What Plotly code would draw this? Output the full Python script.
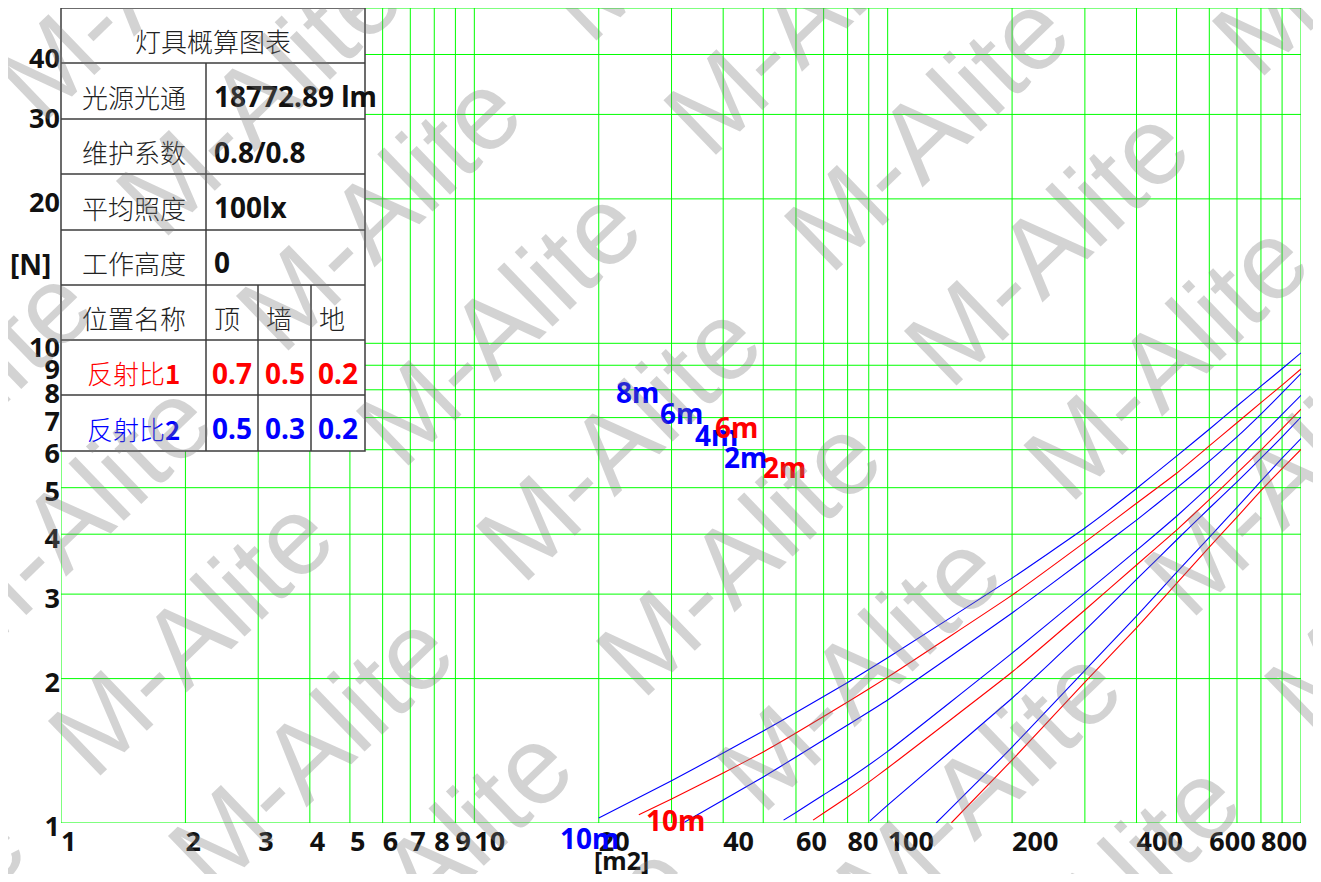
import math
import plotly.graph_objects as go

# ---------------- data ----------------
x_tick_vals = [1, 2, 3, 4, 5, 6, 7, 8, 9, 10, 20, 30, 40, 50, 60, 70, 80, 90,
               100, 200, 300, 400, 500, 600, 700, 800, 900, 1000]
x_tick_text = ["1", "2", "3", "4", "5", "6", "7", "8", "9", "10", "20", "", "40", "",
               "60", "", "80", "", "100", "200", "", "400", "", "600", "", "800", "", ""]
y_tick_vals = [1, 2, 3, 4, 5, 6, 7, 8, 9, 10, 20, 30, 40, 50]
y_tick_text = ["1", "2", "3", "4", "5", "6", "7", "8", "9", "10", "20", "30", "40", ""]

# reflectance 2 (blue)
blue_10m_x = [20, 30, 40, 50, 60, 80, 100, 200, 300, 400, 500, 600, 700, 800, 900, 1000]
blue_10m_y = [1.024, 1.225, 1.40, 1.555, 1.70, 1.962, 2.21, 3.24, 4.12, 4.98, 5.82, 6.62, 7.40, 8.14, 8.85, 9.55]
blue_8m_x = [32, 40, 50, 60, 80, 100, 200, 300, 400, 500, 600, 700, 800, 900, 1000]
blue_8m_y = [1.0, 1.117, 1.247, 1.373, 1.60, 1.805, 2.74, 3.55, 4.28, 4.99, 5.68, 6.38, 7.12, 7.88, 8.65]
blue_6m_x = [56, 60, 70, 80, 100, 200, 300, 400, 500, 600, 700, 800, 900, 1000]
blue_6m_y = [1.014, 1.052, 1.145, 1.232, 1.41, 2.26, 3.01, 3.70, 4.36, 5.03, 5.72, 6.42, 7.11, 7.79]
blue_4m_x = [90.6, 100, 200, 300, 400, 500, 600, 700, 800, 900, 1000]
blue_4m_y = [1.01, 1.09, 1.82, 2.52, 3.22, 3.89, 4.53, 5.14, 5.76, 6.38, 7.02]
blue_2m_x = [131, 200, 300, 400, 500, 600, 700, 800, 900, 1000]
blue_2m_y = [1.0, 1.44, 2.08, 2.70, 3.33, 3.94, 4.55, 5.16, 5.76, 6.33]

# reflectance 1 (red)
red_10m_x = [25, 30, 40, 50, 60, 80, 100, 200, 300, 400, 500, 600, 700, 800, 900, 1000]
red_10m_y = [1.04, 1.122, 1.271, 1.406, 1.54, 1.787, 2.014, 2.985, 3.85, 4.64, 5.36, 6.11, 6.83, 7.52, 8.18, 8.84]
red_6m_x = [66, 70, 80, 90, 100, 200, 300, 400, 500, 600, 700, 800, 900, 1000]
red_6m_y = [1.014, 1.049, 1.133, 1.217, 1.302, 2.064, 2.78, 3.45, 4.08, 4.72, 5.36, 5.99, 6.64, 7.29]
red_2m_x = [142.5, 200, 300, 400, 500, 600, 700, 800, 900, 1000]
red_2m_y = [1.0, 1.353, 1.967, 2.55, 3.16, 3.76, 4.34, 4.93, 5.48, 6.01]

# curve labels (text, area, count)
blue_labels = [("10m", 19.0, 0.93), ("8m", 24.8, 7.9), ("6m", 31.7, 7.15),
               ("4m", 38.5, 6.43), ("2m", 45.3, 5.79)]
red_labels = [("10m", 30.7, 1.014), ("6m", 43.0, 6.68), ("2m", 56.2, 5.52)]

x_title = "[m2]"
y_title = "[N]"
watermark_text = "M-Alite"

table_title = "灯具概算图表"
table_param_labels = ["光源光通", "维护系数", "平均照度", "工作高度"]
table_param_values = ["18772.89 lm", "0.8/0.8", "100lx", "0"]
table_header = ["位置名称", "顶", "墙", "地"]
table_refl1 = ["反射比1", "0.7", "0.5", "0.2"]
table_refl2 = ["反射比2", "0.5", "0.3", "0.2"]

# ---------------- styling / layout ----------------
# page is shown with the browser's 8px body margin, so the figure is sized to fit inside it
PAGE_W, PAGE_H, BODY = 1321, 882, 8
W, H = PAGE_W - 2 * BODY, PAGE_H - 2 * BODY
# plot area in page pixels
P_L, P_R, P_T, P_B = 61, 1301, 8, 823
L, T = P_L - BODY, P_T - BODY
R, B = W - (P_R - BODY), H - (P_B - BODY)
PW, PH = P_R - P_L, P_B - P_T
BLUE, RED, GRID = "#0000ff", "#ff0000", "#00ff00"
NUM_FONT = "Noto Sans"
CJK_FONT = "Noto Sans CJK SC"
TICK_SIZE = 27
LABEL_SIZE = 28
YMAX_LOG = math.log10(y_tick_vals[-1])


def px(x):
    return (x - P_L) / PW


def py(y):
    return (P_B - y) / PH


fig = go.Figure()

# grid (drawn as anti-aliased lines through the axes)
gx, gy = [], []
for v in x_tick_vals:
    gx += [v, v, None]
    gy += [y_tick_vals[0], y_tick_vals[-1], None]
for v in y_tick_vals:
    gx += [x_tick_vals[0], x_tick_vals[-1], None]
    gy += [v, v, None]
fig.add_trace(go.Scatter(x=gx, y=gy, mode="lines", line=dict(color=GRID, width=1),
                         hoverinfo="skip", showlegend=False, cliponaxis=False))

for xs, ys, col in [(blue_10m_x, blue_10m_y, BLUE), (red_10m_x, red_10m_y, RED),
                    (blue_8m_x, blue_8m_y, BLUE), (blue_6m_x, blue_6m_y, BLUE),
                    (red_6m_x, red_6m_y, RED), (blue_4m_x, blue_4m_y, BLUE),
                    (blue_2m_x, blue_2m_y, BLUE), (red_2m_x, red_2m_y, RED)]:
    fig.add_trace(go.Scatter(x=xs, y=ys, mode="lines",
                             line=dict(color=col, width=1.1, shape="spline", smoothing=0.4),
                             hoverinfo="skip", showlegend=False, cliponaxis=True))

annotations = []

# ---- repeated diagonal watermark ----
WM_ANGLE = -44
wm_origin = (858, 670)          # page px of one watermark centre
wm_step_along = (308, -310)     # lattice step along the text direction
wm_step_across = (120, 115)     # lattice step between rows
wm_annots = []
for i in range(-4, 5):
    for j in range(-10, 11):
        cx = wm_origin[0] + i * wm_step_along[0] + j * wm_step_across[0]
        cy = wm_origin[1] + i * wm_step_along[1] + j * wm_step_across[1]
        if -220 < cx < PAGE_W + 220 and -220 < cy < PAGE_H + 220:
            wm_annots.append(dict(x=px(cx), y=py(cy), xref="paper", yref="paper",
                                  text=watermark_text, showarrow=False, textangle=WM_ANGLE,
                                  xanchor="center", yanchor="middle",
                                  font=dict(family="Liberation Sans", size=110,
                                            color="rgba(120,120,120,0.33)")))

for labels, col in [(blue_labels, BLUE), (red_labels, RED)]:
    for txt, xv, yv in labels:
        annotations.append(dict(x=math.log10(xv), y=math.log10(yv) / YMAX_LOG, xref="x", yref="paper",
                                text=txt, showarrow=False, xanchor="center", yanchor="middle",
                                font=dict(family=NUM_FONT, size=LABEL_SIZE, color=col, weight="bold")))

annotations.append(dict(x=px(30), y=py(264), xref="paper", yref="paper", text=y_title,
                        showarrow=False, xanchor="center", yanchor="middle",
                        font=dict(family=NUM_FONT, size=LABEL_SIZE, color="#111", weight="bold")))
annotations.append(dict(x=px(621), y=py(860), xref="paper", yref="paper", text=x_title,
                        showarrow=False, xanchor="center", yanchor="middle",
                        font=dict(family=NUM_FONT, size=25, color="#111", weight="bold")))

# ---- table overlay ----
tx0, tx1 = 61, 365
col_edges = [61, 206, 258, 311, 365]
row_edges = [8, 63, 119, 174, 230, 285, 340, 395, 451]
LINE = dict(color="#3c3c3c", width=1.5)
shapes = [dict(type="rect", xref="paper", yref="paper", x0=px(tx0), x1=px(tx1),
               y0=py(row_edges[-1]), y1=py(row_edges[0]), fillcolor="white",
               line=LINE, layer="above")]
for r in row_edges[1:-1]:
    shapes.append(dict(type="line", xref="paper", yref="paper", x0=px(tx0), x1=px(tx1),
                       y0=py(r), y1=py(r), line=LINE, layer="above"))
shapes.append(dict(type="line", xref="paper", yref="paper", x0=px(col_edges[1]), x1=px(col_edges[1]),
                   y0=py(row_edges[1]), y1=py(row_edges[-1]), line=LINE, layer="above"))
for c in col_edges[2:4]:
    shapes.append(dict(type="line", xref="paper", yref="paper", x0=px(c), x1=px(c),
                       y0=py(row_edges[5]), y1=py(row_edges[-1]), line=LINE, layer="above"))


def row_mid(i):
    return py((row_edges[i] + row_edges[i + 1]) / 2 + 5)


def cjk(text, x, y, color="#222", anchor="center"):
    annotations.append(dict(x=px(x), y=y, xref="paper", yref="paper", text=text, showarrow=False,
                            xanchor=anchor, yanchor="middle",
                            font=dict(family=CJK_FONT, size=26, color=color, weight=300)))


def num(text, x, y, color="#111", anchor="left"):
    annotations.append(dict(x=px(x), y=y, xref="paper", yref="paper", text=text, showarrow=False,
                            xanchor=anchor, yanchor="middle",
                            font=dict(family=NUM_FONT, size=LABEL_SIZE, color=color, weight="bold")))


cjk(table_title, (tx0 + tx1) / 2, row_mid(0))
c0_mid = (col_edges[0] + col_edges[1]) / 2
for i, (lab, val) in enumerate(zip(table_param_labels, table_param_values)):
    cjk(lab, c0_mid, row_mid(i + 1))
    num(val, col_edges[1] + 6, row_mid(i + 1))
cjk(table_header[0], c0_mid, row_mid(5))
for j in range(1, 4):
    cjk(table_header[j], col_edges[j] + 6, row_mid(5), anchor="left")
for k, (row, col) in enumerate([(table_refl1, RED), (table_refl2, BLUE)]):
    ri = 6 + k
    cjk(row[0][:-1] + "<b>" + row[0][-1] + "</b>", c0_mid, row_mid(ri), color=col)
    for j in range(1, 4):
        num(row[j], (col_edges[j] + col_edges[j + 1]) / 2, row_mid(ri), color=col, anchor="center")

fig.update_layout(
    template="none",
    width=W, height=H, margin=dict(l=L, r=R, t=T, b=B, pad=0, autoexpand=False),
    paper_bgcolor="white", plot_bgcolor="white",
    showlegend=False, shapes=shapes, annotations=annotations + wm_annots,
    xaxis=dict(type="log", range=[0, 3], tickmode="array", tickvals=x_tick_vals, ticktext=x_tick_text,
               showgrid=False, showline=False, ticks="", ticklen=0,
               ticklabelposition="outside right", tickangle=0, automargin=False, zeroline=False,
               tickfont=dict(family=NUM_FONT, size=TICK_SIZE, color="#111", weight="bold")),
    yaxis=dict(type="log", range=[0, YMAX_LOG], tickmode="array", tickvals=y_tick_vals,
               ticktext=y_tick_text, showgrid=False, showline=False, ticks="", ticklen=0,
               ticklabelshift=4, automargin=False, zeroline=False,
               tickfont=dict(family=NUM_FONT, size=TICK_SIZE, color="#111", weight="bold")),
)

fig.write_html("out.html")
